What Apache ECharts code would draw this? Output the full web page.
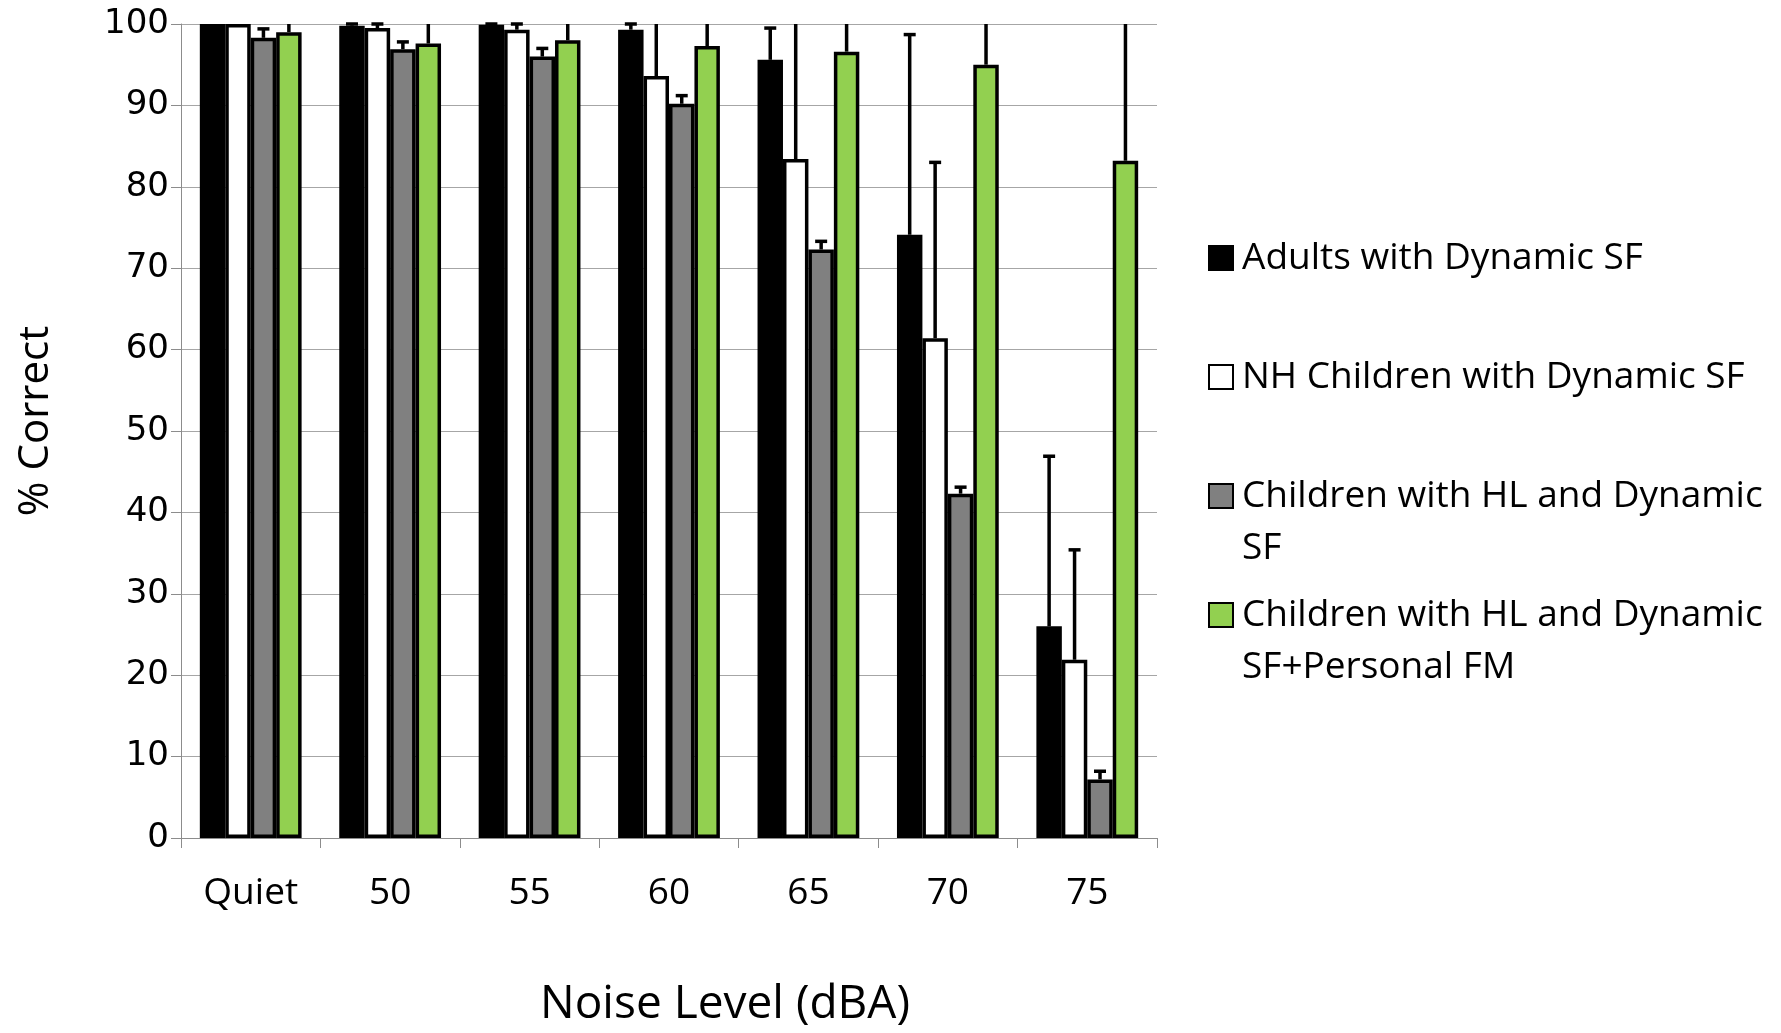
<!DOCTYPE html>
<html>
<head>
<meta charset="utf-8">
<script src="https://cdn.jsdelivr.net/npm/echarts@6/dist/echarts.min.js"></script>
<style>html,body{margin:0;padding:0;background:#fff}#c{width:1781px;height:1033px}</style>
</head>
<body>
<div id="c"></div>
<script>
const categories = ['Quiet', '50', '55', '60', '65', '70', '75'];
const seriesNames = [
  'Adults with Dynamic SF',
  'NH Children with Dynamic SF',
  'Children with HL and Dynamic SF',
  'Children with HL and Dynamic SF+Personal FM'
];
const legendLabels = [
  'Adults with Dynamic SF',
  'NH Children with Dynamic SF',
  'Children with HL and Dynamic\nSF',
  'Children with HL and Dynamic\nSF+Personal FM'
];
const adults      = [100, 99.8, 99.9, 99.3, 95.6, 74.1, 26.0];
const adultsErr   = [0, 0.2, 0.1, 0.7, 3.9, 24.6, 20.9];
const nhChildren  = [100, 99.5, 99.3, 93.6, 83.4, 61.4, 21.9];
const nhErr       = [0, 0.5, 0.7, 10, 20, 21.6, 13.5];
const hlChildren  = [98.3, 96.9, 96.0, 90.2, 72.3, 42.3, 7.2];
const hlErr       = [1.1, 0.9, 1.0, 1.0, 1.0, 0.8, 1.0];
const hlFm        = [99.0, 97.6, 98.0, 97.3, 96.6, 95.0, 83.2];
const hlFmErr     = [2, 4, 3, 4, 5, 6, 20];
const yTicks = [0, 10, 20, 30, 40, 50, 60, 70, 80, 90, 100];

const values = [adults, nhChildren, hlChildren, hlFm];
const errors = [adultsErr, nhErr, hlErr, hlFmErr];
const colors = ['#000000', '#ffffff', '#808080', '#92d050'];

const GAP = 0.27;
const N = 4;
const YMAX = yTicks[yTicks.length - 1];

const chart = echarts.init(document.getElementById('c'), null, {renderer: 'canvas'});

const series = [];
values.forEach((vals, i) => {
  series.push({
    name: seriesNames[i],
    type: 'bar',
    data: vals,
    barGap: '0%',
    barCategoryGap: (GAP * 100) + '%',
    itemStyle: {color: colors[i], borderColor: '#000', borderWidth: 3.5},
    emphasis: {disabled: true},
    z: 2
  });
});
values.forEach((vals, i) => {
  series.push({
    type: 'custom',
    name: seriesNames[i] + ' err',
    data: vals.map((v, k) => [k, v, errors[i][k]]),
    z: 5,
    silent: true,
    renderItem: function (params, api) {
      const k = api.value(0), v = api.value(1), e = api.value(2);
      if (!(e > 0)) return null;
      const bw = api.size([1, 0])[0];
      const inner = bw * (1 - GAP);
      const w = inner / N;
      const base = api.coord([k, v]);
      const x = base[0] - inner / 2 + w * (i + 0.5);
      const topVal = Math.min(v + e, YMAX);
      const y0 = base[1];
      const y1 = api.coord([k, topVal])[1];
      const children = [{
        type: 'line',
        shape: {x1: x, y1: y0, x2: x, y2: y1},
        style: {stroke: '#000', lineWidth: 3.5}
      }];
      if (v + e <= YMAX) {
        children.push({
          type: 'line',
          shape: {x1: x - 6, y1: y1, x2: x + 6, y2: y1},
          style: {stroke: '#000', lineWidth: 3.5}
        });
      }
      return {type: 'group', children: children};
    }
  });
});

chart.setOption({
  animation: false,
  backgroundColor: '#fff',
  grid: {left: 181, right: 624, top: 24, bottom: 190, containLabel: false},
  legend: {
    orient: 'vertical',
    left: 1203,
    top: 175,
    icon: 'rect',
    itemWidth: 24,
    itemHeight: 24,
    itemGap: -37,
    data: seriesNames,
    selectedMode: false,
    formatter: function (name) {
      const lbl = legendLabels[seriesNames.indexOf(name)];
      return ' \n' + lbl + (lbl.indexOf('\n') < 0 ? '\n ' : '');
    },
    textStyle: {fontFamily: 'Open Sans', fontSize: 37, color: '#000', lineHeight: 52, padding: [0, 0, 0, 4]}
  },
  xAxis: {
    type: 'category',
    data: categories,
    name: 'Noise Level (dBA)',
    nameLocation: 'middle',
    nameGap: 144,
    nameTextStyle: {fontFamily: 'Open Sans', fontSize: 46, color: '#000', padding: [0, 0, 0, 112]},
    axisLine: {show: true, lineStyle: {color: '#8c8c8c', width: 1}},
    axisTick: {show: true, length: 10, lineStyle: {color: '#8c8c8c'}},
    axisLabel: {fontFamily: 'Open Sans', fontSize: 37, color: '#000', margin: 37},
    splitLine: {show: false}
  },
  yAxis: {
    type: 'value',
    min: 0,
    max: 100,
    interval: 10,
    name: '% Correct',
    nameLocation: 'middle',
    nameGap: 124,
    nameTextStyle: {fontFamily: 'Open Sans', fontSize: 42, color: '#000', padding: [0, 0, 0, 20]},
    axisLine: {show: true, lineStyle: {color: '#8c8c8c', width: 1}},
    axisTick: {show: true, length: 10, inside: false, lineStyle: {color: '#8c8c8c'}},
    axisLabel: {fontFamily: 'DejaVu Sans', fontSize: 34, color: '#000', margin: 12},
    splitLine: {show: true, lineStyle: {color: '#a6a6a6', width: 1}}
  },
  series: series
});
</script>
</body>
</html>
